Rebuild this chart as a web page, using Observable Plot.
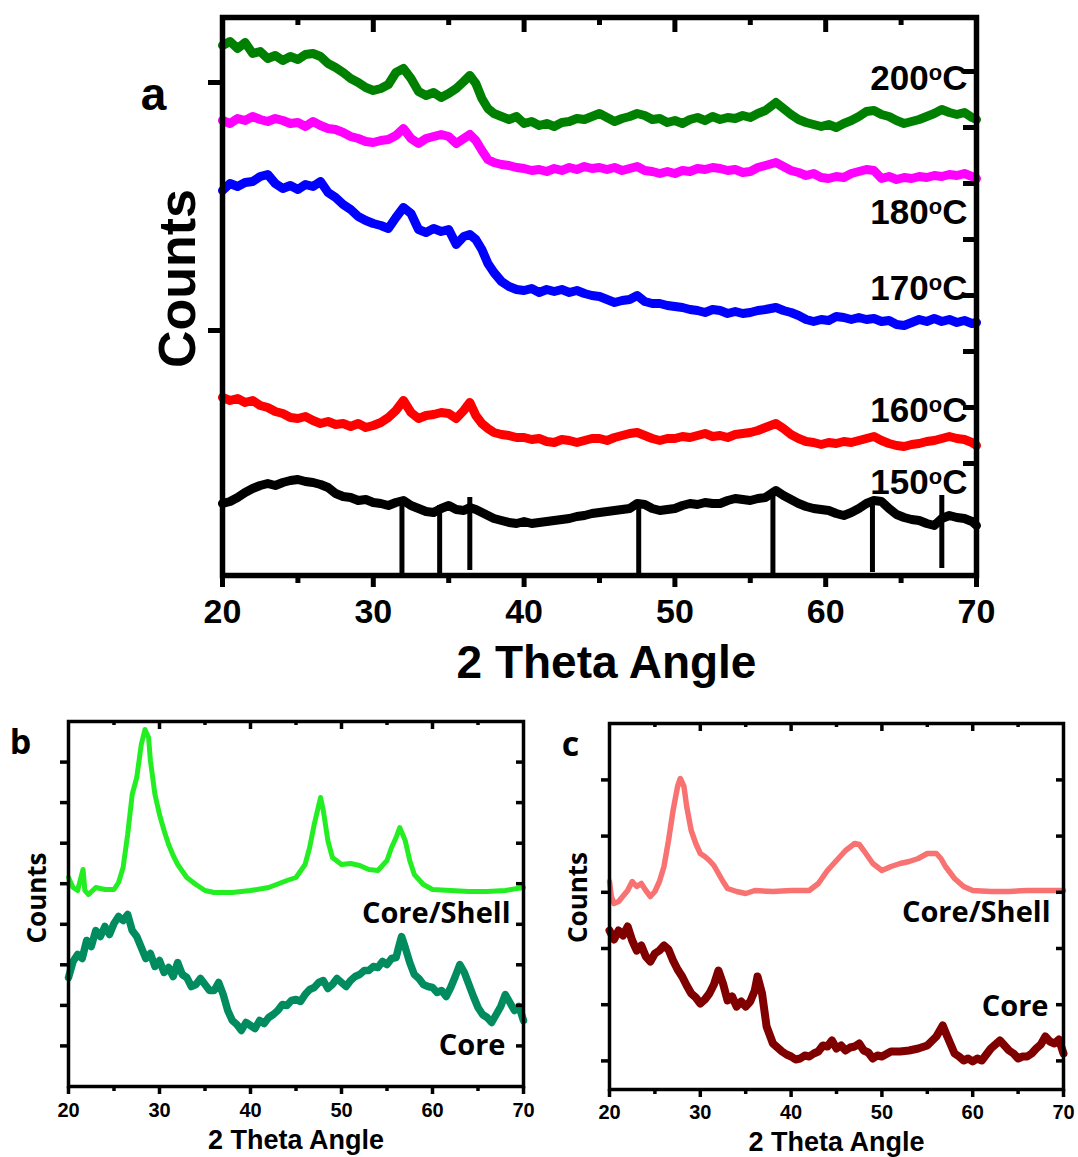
<!DOCTYPE html>
<html>
<head>
<meta charset="utf-8">
<script src="https://cdn.jsdelivr.net/npm/d3@7"></script>
<script src="https://cdn.jsdelivr.net/npm/@observablehq/plot@0.6"></script>
<style>
  html, body { margin: 0; padding: 0; background: #fff; }
  #fig { position: relative; width: 1078px; height: 1157px; background: #fff; overflow: hidden; }
  .panel { position: absolute; }
  #pa { left: 0; top: 0; }
  #pb { left: 0; top: 700px; }
  #pc { left: 539px; top: 700px; }
</style>
</head>
<body>
<div id="fig"><div id="pa" class="panel"></div><div id="pb" class="panel"></div><div id="pc" class="panel"></div></div>
<script>
// ---------------- Panel a data (2 theta grid, counts a.u.) ----------------
const thetaA = [20,20.5,21,21.5,22,22.5,23,23.5,24,24.5,25,25.5,26,26.5,27,27.5,28,28.5,29,29.5,30,30.5,31,31.5,32,32.5,33,33.5,34,34.5,35,35.5,36,
  36.4,36.8,37.2,37.6,
  38,38.5,39,39.5,40,40.5,41,41.5,42,42.5,43,43.5,44,44.5,45,45.5,46,46.5,47,47.5,48,48.5,49,49.5,50,50.5,51,51.5,52,52.5,53,53.5,54,54.5,55,55.5,56,
  56.7,
  57.2,57.7,58.2,58.7,59.2,59.7,60.2,60.7,61.2,61.7,62.2,62.7,63.2,63.7,64.2,64.7,65.2,65.7,66.2,66.7,67.2,67.7,68.2,68.7,69.2,69.7,
  70];

const c200 = [530,534,527,533,522,524,517,520,515,519,516,521,522,519,512,508,503,497,493,488,485,487,491,503,507,497,484,480,483,478,482,487,494,
  500,492,477,467,
  462,459,456,459,452,454,450,452,449,453,454,457,456,459,462,458,454,457,459,462,460,456,457,453,455,452,456,458,455,459,456,458,457,460,458,462,465,
  473,
  467,461,456,453,451,449,451,448,452,455,459,464,465,461,459,455,452,454,456,459,462,466,463,461,463,458,
  456];

const c180 = [455,452,457,455,459,456,454,457,455,452,453,449,454,450,447,446,443,439,437,434,433,435,436,440,447,437,432,437,439,441,439,432,437,
  441,435,425,416,
  413,411,410,408,407,405,406,404,407,405,408,406,409,407,408,406,408,405,407,409,405,404,402,404,402,405,404,407,406,408,407,405,406,403,404,408,410,
  413,
  409,405,403,400,402,398,397,399,398,402,404,406,405,397,399,396,398,397,399,398,400,399,401,400,402,399,
  397];

const c170 = [385,392,389,393,394,399,401,392,387,390,386,391,389,394,383,378,371,366,359,355,352,350,347,358,368,362,346,343,347,344,346,331,339,
  341,336,326,312,
  303,294,289,286,285,287,283,286,284,286,283,285,282,280,279,276,273,275,276,280,274,272,272,270,269,268,266,265,263,266,265,262,264,262,263,265,266,
  268,
  265,263,260,256,254,256,255,259,258,256,258,256,257,254,255,251,250,253,256,254,257,254,256,253,255,252,
  253];

const c160 = [178,175,177,173,175,170,168,164,162,158,157,159,155,152,154,151,152,149,152,148,150,153,158,165,175,163,157,160,161,163,162,157,165,
  173,160,152,147,
  143,141,140,138,138,136,137,134,133,136,135,133,135,137,137,135,138,140,142,143,140,137,135,137,137,139,138,140,142,139,140,138,141,142,143,145,148,
  152,
  147,141,137,134,133,131,133,132,134,133,135,137,139,135,132,130,129,131,132,134,135,137,139,137,136,133,
  130];

const c150 = [72,74,78,83,87,90,92,90,93,95,96,94,93,91,88,82,79,78,75,76,73,72,70,73,75,70,67,64,63,67,70,66,65,
  68,66,63,60,
  57,55,53,52,54,52,53,54,55,56,57,59,60,62,63,64,65,66,67,72,71,67,65,66,67,70,72,71,73,72,72,75,77,76,75,77,78,
  85,
  80,76,72,69,67,66,65,62,60,63,67,72,75,74,67,61,58,56,55,52,50,57,60,58,57,54,
  50];

// reference pattern sticks
const stickPos = [31.9, 34.4, 36.4, 47.6, 56.5, 63.1, 67.7];
const stickTop = [75, 70, 78, 73, 85, 78, 80];
const stickBase = [0, 0, 5, 0, 0, 3, 7];

const tempLabels = ["200°C", "180°C", "170°C", "160°C", "150°C"];
const tempLabelY = [497, 363, 287, 165, 93];

const aMajor = [20, 30, 40, 50, 60, 70];
const aMinor = [25, 35, 45, 55, 65];
const aTopMajor = [30, 40, 50, 60];
const aLeftTicks = [245, 493];
const aRightTicks = [56, 112, 168, 224, 280, 336, 392, 448, 504];

// ---------------- Panel b data ----------------
const tbShell = [20,20.5,21,21.6,21.8,22.2,23,24,25,25.5,26,26.5,27,27.5,28,28.4,28.8,29,29.5,30,30.5,31,31.5,32,33,34,35,36,38,40,42,44,45,46,46.5,47,47.7,48,48.5,49,50,51,52,53,54,55,55.5,56,56.4,57,57.5,58,59,60,62,64,66,68,70];
const cbShell = [209,199,196,217,196,192,199,197,197,204,219,252,292,309,342,357,349,326,292,272,256,242,231,222,209,202,196,194,194,196,199,206,209,222,239,262,289,276,246,229,222,223,221,217,216,226,239,249,259,246,226,212,202,197,196,195,195,196,199];

const tbCore = [20,20.5,21,21.5,22,22.5,23,23.5,24,24.5,25,25.5,26,26.5,27,27.5,28,28.5,29,29.5,30,30.5,31,31.5,32,32.5,33,33.5,34,34.5,35,35.5,36,36.5,37,37.5,38,38.5,39,39.5,40,40.5,41,41.5,42,42.5,43,43.5,44,44.5,45,45.5,46,46.5,47,47.5,48,48.5,49,49.5,50,50.5,51,51.5,52,52.5,53,53.5,54,54.5,55,55.5,56,56.3,56.6,57,57.5,58,58.5,59,59.5,60,60.5,61,61.5,62,62.5,63,63.5,64,64.5,65,65.5,66,66.5,67,67.5,68,68.5,69,69.5,70];
const cbCore = [109,125,132,128,146,140,156,150,160,152,163,170,166,172,156,150,139,128,133,120,126,114,119,110,124,112,109,100,102,108,102,96,96,104,92,76,66,62,56,64,61,58,66,63,69,72,76,82,81,86,87,85,92,97,99,104,106,98,102,108,104,100,106,110,112,116,116,120,119,125,122,128,129,140,150,139,124,112,108,102,100,99,94,96,90,99,110,122,114,102,90,79,72,69,64,72,80,92,84,76,80,66];

const bTicksY = [40.6, 81.1, 121.7, 162.2, 202.8, 243.3, 283.9, 324.4];

// ---------------- Panel c data ----------------
const tcShell = [20,20.2,20.5,21,22,22.5,23,23.5,24,24.5,25,25.5,26,26.5,27,27.5,27.8,28.2,28.5,29,29.5,30,30.5,31,31.5,32,32.5,33,34,35,36,38,40,42,43,44,45,46,47,47.5,48,49,50,51,52,53,54,55,56,56.5,57,58,59,60,62,64,66,68,70];
const ccShell = [208,193,186,188,199,208,203,206,199,193,198,208,223,249,279,303,311,303,283,259,246,236,233,229,224,216,208,201,198,196,199,198,199,199,206,219,229,239,246,245,239,226,219,223,226,228,231,236,236,231,223,211,203,199,198,198,199,199,199];

const tcCore = [20,20.5,21,21.5,22,22.5,23,23.5,24,24.5,25,25.5,26,26.5,27,27.5,28,28.5,29,29.5,30,30.5,31,31.5,32,32.5,33,33.5,34,34.5,35,35.5,36,36.3,36.8,37.3,38,38.5,39,39.5,40,40.5,41,41.5,42,42.5,43,43.5,44,44.5,45,45.5,46,46.5,47,47.5,48,48.5,49,49.5,50,51,52,53,54,55,56,56.7,57.2,58,58.5,59,59.5,60,60.5,61,61.5,62,62.5,63,63.5,64,64.5,65,65.5,66,66.5,67,67.5,68,68.5,69,69.5,70];
const ccCore = [159,150,159,154,163,149,139,144,133,128,136,139,144,140,129,120,113,104,96,92,86,90,96,105,119,106,89,93,83,88,83,88,99,113,96,63,46,42,38,35,33,30,31,34,33,36,38,44,43,49,41,44,39,42,43,46,39,37,31,34,33,38,38,39,41,44,53,64,53,36,33,29,31,28,31,29,35,41,45,49,44,39,36,31,33,33,36,41,45,53,48,46,50,36];

const cTicksY = [28.6, 84.8, 141, 197.2, 253.4, 309.6];

const bcMajor = [20, 30, 40, 50, 60, 70];
const bcMinor = [25, 35, 45, 55, 65];
const bcTopMajor = [30, 40, 50, 60];

// ---------------- helpers ----------------
const pts = (t, c) => t.map((x, i) => ({x, y: c[i]}));
const ARIAL = "'Liberation Sans', Arial, sans-serif";
const SANS2 = "'Open Sans', 'Liberation Sans', sans-serif";
const centered = {textAnchor: "middle", lineAnchor: "middle", fill: "black"};

// ---------------- Panel a ----------------
const aSeries = [
  {c: c200, color: "#008000"},
  {c: c180, color: "#ff00ff"},
  {c: c170, color: "#0000ff"},
  {c: c160, color: "#ff0000"},
  {c: c150, color: "#000000"}
];
const sticks = stickPos.map((x, i) => ({x, y1: stickBase[i], y2: stickTop[i]}));
const aLabels = tempLabels.map((s, i) => ({s, y: tempLabelY[i]}));

const aW = 1078, aH = 700, aMT = 17, aMR = 102, aMB = 125, aML = 222;
const aIW = aW - aML - aMR, aIH = aH - aMT - aMB;

const plotA = Plot.plot({
  width: aW, height: aH,
  marginTop: aMT, marginRight: aMR, marginBottom: aMB, marginLeft: aML,
  x: {domain: [20, 70], axis: null},
  y: {domain: [0, aIH], axis: null},
  style: {fontFamily: ARIAL, background: "white", color: "black", overflow: "visible"},
  marks: [
    ...aSeries.map(s => Plot.line(pts(thetaA, s.c), {x: "x", y: "y", stroke: s.color, strokeWidth: 9, strokeLinejoin: "round", strokeLinecap: "round"})),
    Plot.ruleX(sticks, {x: "x", y1: "y1", y2: "y2", stroke: "black", strokeWidth: 5}),
    Plot.frame({stroke: "black", strokeWidth: 5.5}),
    Plot.axisX({anchor: "bottom", ticks: aMajor, tickSize: 12, tickPadding: 11, tickFormat: d => String(d), fontSize: 34, fontWeight: "bold", strokeWidth: 5, label: null}),
    Plot.axisX({anchor: "bottom", ticks: aMinor, tickSize: 8, tickFormat: () => "", strokeWidth: 5, label: null}),
    Plot.tickX(aTopMajor, {x: d => d, insetBottom: aIH - 15, strokeWidth: 5}),
    Plot.tickX(aMinor, {x: d => d, insetBottom: aIH - 8, strokeWidth: 5}),
    Plot.axisY({anchor: "left", ticks: aLeftTicks, tickSize: 14, tickFormat: () => "", strokeWidth: 5, label: null}),
    Plot.tickY(aRightTicks, {y: d => d, insetLeft: aIW - 13, strokeWidth: 5}),
    Plot.text(aLabels, {x: 70, y: "y", text: "s", textAnchor: "end", lineAnchor: "middle", dx: -9, fontSize: 35, fontWeight: "bold", fill: "black"}),
    Plot.text(["2 Theta Angle"], {frameAnchor: "bottom", text: d => d, dx: 7, dy: 88, fontSize: 46, fontWeight: "bold", ...centered}),
    Plot.text(["Counts"], {frameAnchor: "left", text: d => d, rotate: -90, dx: -44, dy: -18, fontSize: 52, fontWeight: "bold", ...centered}),
    Plot.text(["a"], {frameAnchor: "top-left", text: d => d, dx: -69, dy: 78, fontSize: 46, fontWeight: "bold", ...centered})
  ]
});
// render superscript "o" in temperature labels
plotA.querySelectorAll("text").forEach(t => {
  const m = t.textContent.match(/^(\d+)°C$/);
  if (!m) return;
  const ns = "http://www.w3.org/2000/svg";
  t.textContent = "";
  const a = document.createElementNS(ns, "tspan"); a.textContent = m[1];
  const o = document.createElementNS(ns, "tspan"); o.textContent = "o"; o.setAttribute("font-size", "22"); o.setAttribute("dy", "-10");
  const c = document.createElementNS(ns, "tspan"); c.textContent = "C"; c.setAttribute("dy", "10");
  t.append(a, o, c);
});
document.getElementById("pa").appendChild(plotA);

// ---------------- Panels b and c ----------------
function smallPanel(opts) {
  const W = 539, H = 457;
  const IW = W - opts.ml - opts.mr, IH = H - opts.mt - opts.mb;
  const labelStyle = {x: 70, textAnchor: "end", lineAnchor: "middle", fontFamily: SANS2, fontSize: 29, fontWeight: 700, fill: "black"};
  return Plot.plot({
    width: W, height: H,
    marginTop: opts.mt, marginRight: opts.mr, marginBottom: opts.mb, marginLeft: opts.ml,
    x: {domain: [20, 70], axis: null},
    y: {domain: [0, IH], axis: null},
    style: {fontFamily: ARIAL, background: "white", color: "black", overflow: "visible"},
    marks: [
      Plot.line(pts(opts.coreT, opts.coreC), {x: "x", y: "y", stroke: opts.coreColor, strokeWidth: opts.coreW, strokeLinejoin: "round"}),
      Plot.line(pts(opts.shellT, opts.shellC), {x: "x", y: "y", stroke: opts.shellColor, strokeWidth: opts.shellW, strokeLinejoin: "round"}),
      Plot.frame({stroke: "black", strokeWidth: 3.5}),
      Plot.axisX({anchor: "bottom", ticks: bcMajor, tickSize: 8, tickPadding: opts.pad, tickFormat: d => String(d), fontSize: 20, fontWeight: "bold", strokeWidth: 3.5, label: null}),
      Plot.axisX({anchor: "bottom", ticks: bcMinor, tickSize: 5, tickFormat: () => "", strokeWidth: 3.5, label: null}),
      Plot.tickX(bcTopMajor, {x: d => d, insetBottom: IH - 8, strokeWidth: 3.5}),
      Plot.tickX(bcMinor, {x: d => d, insetBottom: IH - 4, strokeWidth: 3.5}),
      Plot.axisY({anchor: "left", ticks: opts.yTicks, tickSize: 8, tickFormat: () => "", strokeWidth: 3.5, label: null}),
      Plot.tickY(opts.yTicks, {y: d => d, insetLeft: IW - 7, strokeWidth: 3.5}),
      Plot.text(["Core/Shell"], {...labelStyle, y: () => opts.shellLabelY, text: d => d, dx: opts.shellDx}),
      Plot.text(["Core"], {...labelStyle, y: () => opts.coreLabelY, text: d => d, dx: opts.coreDx}),
      Plot.text(["2 Theta Angle"], {frameAnchor: "bottom", text: d => d, dy: opts.titleDy, fontSize: 27, fontWeight: "bold", ...centered}),
      Plot.text(["Counts"], {frameAnchor: "left", text: d => d, rotate: -90, dx: -31, dy: opts.countsDy, fontFamily: SANS2, fontSize: 26, fontWeight: 700, ...centered}),
      Plot.text([opts.letter], {frameAnchor: "top-left", text: d => d, dx: opts.letterDx, dy: 22, fontFamily: SANS2, fontSize: 34, fontWeight: 700, ...centered})
    ]
  });
}

const plotB = smallPanel({
  ml: 68, mr: 16, mt: 21, mb: 71, pad: 8, yTicks: bTicksY,
  coreT: tbCore, coreC: cbCore, coreColor: "#008c5f", coreW: 7.5,
  shellT: tbShell, shellC: cbShell, shellColor: "#22ee22", shellW: 5,
  shellLabelY: 172.7, shellDx: -13, coreLabelY: 40.7, coreDx: -18,
  titleDy: 54, countsDy: -6, letter: "b", letterDx: -48
});
document.getElementById("pb").appendChild(plotB);

const plotC = smallPanel({
  ml: 70, mr: 15, mt: 23, mb: 68, pad: 7, yTicks: cTicksY,
  coreT: tcCore, coreC: ccCore, coreColor: "#800000", coreW: 8,
  shellT: tcShell, shellC: ccShell, shellColor: "#f87272", shellW: 5.5,
  shellLabelY: 176.3, shellDx: -13, coreLabelY: 82.3, coreDx: -15,
  titleDy: 53, countsDy: -9, letter: "c", letterDx: -39
});
document.getElementById("pc").appendChild(plotC);
</script>
</body>
</html>
